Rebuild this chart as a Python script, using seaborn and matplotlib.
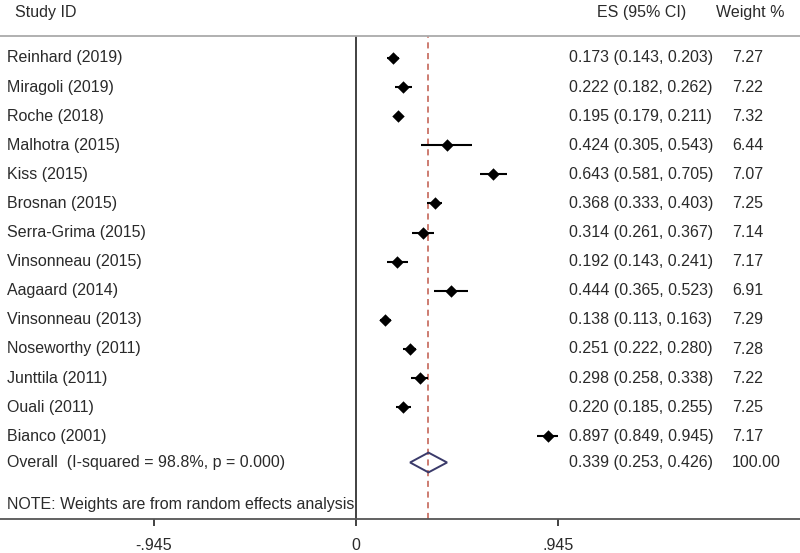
import numpy as np
import pandas as pd
import matplotlib
matplotlib.use("Agg")
import matplotlib.pyplot as plt
import seaborn as sns

studies = ["Reinhard (2019)", "Miragoli (2019)", "Roche (2018)", "Malhotra (2015)",
           "Kiss (2015)", "Brosnan (2015)", "Serra-Grima (2015)", "Vinsonneau (2015)",
           "Aagaard (2014)", "Vinsonneau (2013)", "Noseworthy (2011)", "Junttila (2011)",
           "Ouali (2011)", "Bianco (2001)"]
es = [0.173, 0.222, 0.195, 0.424, 0.643, 0.368, 0.314, 0.192, 0.444, 0.138, 0.251, 0.298, 0.220, 0.897]
lo = [0.143, 0.182, 0.179, 0.305, 0.581, 0.333, 0.261, 0.143, 0.365, 0.113, 0.222, 0.258, 0.185, 0.849]
hi = [0.203, 0.262, 0.211, 0.543, 0.705, 0.403, 0.367, 0.241, 0.523, 0.163, 0.280, 0.338, 0.255, 0.945]
weights = [7.27, 7.22, 7.32, 6.44, 7.07, 7.25, 7.14, 7.17, 6.91, 7.29, 7.28, 7.22, 7.25, 7.17]
overall_label = "Overall  (I-squared = 98.8%, p = 0.000)"
overall_es, overall_lo, overall_hi, overall_w = 0.339, 0.253, 0.426, 100.00
note = "NOTE: Weights are from random effects analysis"
xticks = [-0.945, 0.0, 0.945]
xticklabels = ["-.945", "0", ".945"]

sns.set_theme(style="white")
plt.rcParams['font.family'] = ['Liberation Sans', 'DejaVu Sans']

fig = plt.figure(figsize=(8.0, 5.53), dpi=100)
ax = fig.add_axes([0.0, (553 - 519) / 553, 1.0, (519 - 36) / 553])

# x scale: 0 at px 356, 0.945 -> 202 px
ppu = 202 / 0.945
ax.set_xlim(-356 / ppu, (800 - 356) / ppu)
# y rows: row 0 at px 58, spacing 29.1
row0, sp = 58.0, 29.1
ax.set_ylim((519 - row0) / sp, (36 - row0) / sp)

df = pd.DataFrame({"study": studies, "es": es, "lo": lo, "hi": hi, "w": weights})
df["row"] = np.arange(len(df))

fs = 11.5
tc = "#2a2a2a"

ax.hlines(df["row"], df["lo"], df["hi"], color="black", lw=1.5, zorder=3)
sns.scatterplot(data=df, x="es", y="row", marker="D", color="black", s=40,
                edgecolor="black", linewidth=0, ax=ax, zorder=4)

orow = len(df)
ax.fill([overall_lo, overall_es, overall_hi, overall_es, overall_lo],
        [orow - 0.1, orow - 0.44, orow - 0.1, orow + 0.24, orow - 0.1],
        facecolor="none", edgecolor="#3a3a6a", lw=1.4, zorder=4)

# reference lines
ax.axvline(0, color="#333333", lw=1.3, zorder=2)
ax.axvline(overall_es, color="#c0584a", lw=1.1, ls=(0, (4, 3)), zorder=2)

trans = ax.get_yaxis_transform()  # x in axes, y in data
for i, r in df.iterrows():
    ax.text(7 / 800, r["row"], r["study"], transform=trans, ha="left", va="center", fontsize=fs, color=tc)
    ax.text(569 / 800, r["row"], f"{r['es']:.3f} ({r['lo']:.3f}, {r['hi']:.3f})",
            transform=trans, ha="left", va="center", fontsize=fs, color=tc)
    ax.text(732 / 800, r["row"], f"{r['w']:.2f}", transform=trans, ha="left", va="center", fontsize=fs, color=tc)

ax.text(7 / 800, orow - 0.1, overall_label, transform=trans, ha="left", va="center", fontsize=fs, color=tc)
ax.text(569 / 800, orow - 0.1, f"{overall_es:.3f} ({overall_lo:.3f}, {overall_hi:.3f})",
        transform=trans, ha="left", va="center", fontsize=fs, color=tc)
ax.text(732 / 800, orow - 0.1, f"{overall_w:.2f}", transform=trans, ha="left", va="center", fontsize=fs, color=tc)
ax.text(7 / 800, (505 - row0) / sp, note, transform=trans, ha="left", va="center", fontsize=fs, color=tc)

hy = (13 - row0) / sp
ax.text(15 / 800, hy, "Study ID", transform=trans, ha="left", va="center", fontsize=fs, color=tc, clip_on=False)
ax.text(597 / 800, hy, "ES (95% CI)", transform=trans, ha="left", va="center", fontsize=fs, color=tc, clip_on=False)
ax.text(716 / 800, hy, "Weight %", transform=trans, ha="left", va="center", fontsize=fs, color=tc, clip_on=False)

ax.set_yticks([])
ax.set_xticks(xticks)
ax.set_xticklabels(xticklabels, fontsize=fs, color=tc)
ax.tick_params(axis="x", direction="out", length=5, width=1.3, color="#333333", pad=9, bottom=True)
ax.set_xlabel("")
ax.set_ylabel("")
for s in ["left", "right"]:
    ax.spines[s].set_visible(False)
ax.spines["bottom"].set_color("#555555")
ax.spines["bottom"].set_linewidth(1.3)
ax.spines["top"].set_color("#aaaaaa")
ax.spines["top"].set_linewidth(1.3)

fig.savefig("out.png", dpi=100)
